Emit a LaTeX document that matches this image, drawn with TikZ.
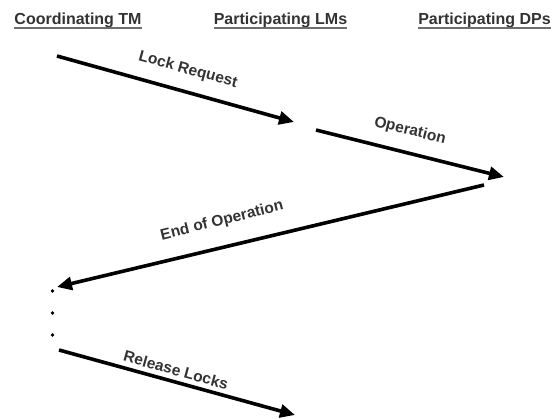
\documentclass[tikz,border=0pt]{standalone}
\usepackage{fontspec}
\setmainfont{Liberation Sans}
\usetikzlibrary{arrows.meta}
\definecolor{txt}{HTML}{333333}
\definecolor{uln}{HTML}{6E6E6E}
\begin{document}
\begin{tikzpicture}[x=1pt,y=-1pt,
  hdr/.style={font=\fontsize{16}{18}\selectfont\bfseries, text=txt, inner sep=0pt, anchor=base},
  uline/.style={draw=uln, line width=1.6pt},
  lbl/.style={font=\fontsize{15.5}{18}\selectfont\bfseries, text=txt, inner sep=0pt},
  msg/.style={line width=3.6pt, -{Triangle[length=15pt,width=13pt]}},
  dot/.style={circle, fill=black, inner sep=0pt, minimum size=3.8pt}]
\useasboundingbox (0,0) rectangle (552,419);
% headers
\node[hdr] (h1) at (78,25) {Coordinating TM};
\node[hdr] (h2) at (280.5,25) {Participating LMs};
\node[hdr] (h3) at (484.5,25) {Participating DPs};
\foreach \h in {h1,h2,h3}
  \draw[uline] ([yshift=-3.2pt]\h.base west) -- ([yshift=-3.2pt]\h.base east);
% endpoints
\coordinate (a1) at (57,56);
\coordinate (b1) at (294,122);
\coordinate (a2) at (316,130);
\coordinate (b2) at (504,177);
\coordinate (a3) at (484,185);
\coordinate (b3) at (57,287);
\coordinate (a4) at (59,350);
\coordinate (b4) at (295,415);
\draw[msg] (a1) -- (b1);
\draw[msg] (a2) -- (b2);
\draw[msg] (a3) -- (b3);
\draw[msg] (a4) -- (b4);
% labels
\node[lbl, rotate=-15.5] (l1) at (188,70) {Lock Request};
\node[lbl, rotate=-14] (l2) at (410,131) {Operation};
\node[lbl, rotate=14] (l3) at (222,221) {End of Operation};
\node[lbl, rotate=-15.5] (l4) at (176,370) {Release Locks};
% dots
\node[dot] (d1) at (52.5,291) {};
\node[dot] (d2) at (52.5,313) {};
\node[dot] (d3) at (52.5,335) {};
\end{tikzpicture}
\end{document}
